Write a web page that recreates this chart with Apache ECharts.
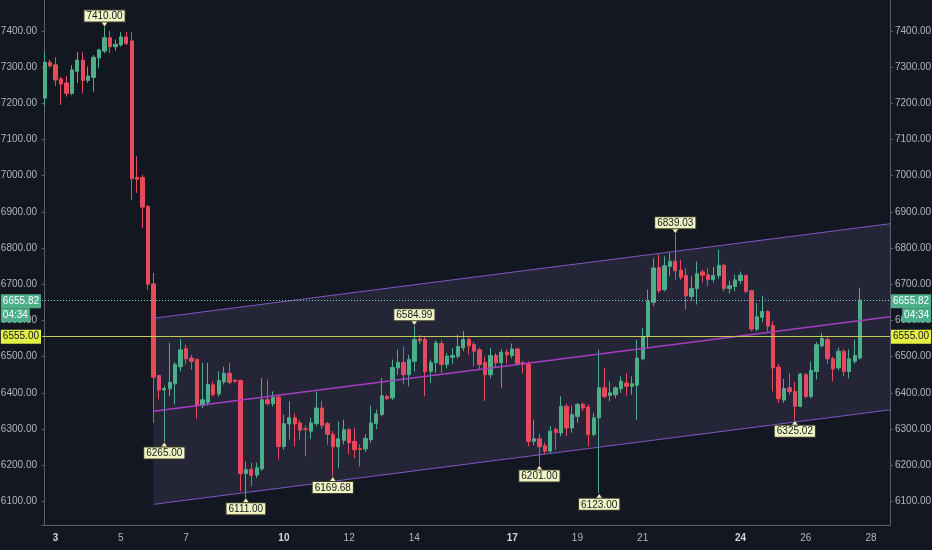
<!DOCTYPE html>
<html>
<head>
<meta charset="utf-8">
<title>BTC 4h</title>
<script src="https://cdn.jsdelivr.net/npm/echarts@6/dist/echarts.min.js"></script>
<style>
  html, body { margin: 0; padding: 0; background: #131722; }
  #chart { width: 932px; height: 550px; }
</style>
</head>
<body>
<div id="chart"></div>
<script>
// 4h candles, 2 Sep 16:00 .. 27 Sep 16:00
const opens = [7214,7313,7306,7267,7256,7227,7288,7319,7263,7271,7325,7344,7381,7356,7361,7383,7372,6995,6995,6915,
  6701,6448,6408,6411,6425,6472,6522,6496,6492,6366,6374,6422,6397,6430,6454,6435,6434,6177,6188,6173,
  6190,6381,6370,6388,6252,6314,6331,6317,6301,6294,6315,6358,6315,6285,6251,6269,6298,6266,6246,6245,
  6271,6315,6340,6390,6386,6469,6484,6450,6487,6549,6547,6459,6483,6536,6478,6498,6501,6524,6547,6533,
  6519,6484,6450,6503,6483,6512,6503,6521,6484,6479,6266,6273,6254,6239,6299,6289,6363,6303,6335,6368,
  6361,6285,6331,6414,6393,6395,6411,6427,6418,6421,6494,6556,6650,6746,6685,6749,6763,6739,6724,6666,
  6688,6734,6726,6713,6724,6752,6688,6694,6710,6724,6682,6576,6609,6625,6586,6471,6380,6414,6404,6363,
  6450,6390,6459,6530,6547,6494,6469,6515,6459,6487,6496];
const closes = [7313,7303,7264,7253,7227,7292,7319,7263,7275,7327,7347,7381,7356,7363,7383,7365,6991,6990,6913,6700,
  6443,6408,6412,6429,6478,6519,6494,6487,6365,6381,6423,6395,6434,6454,6429,6432,6177,6188,6172,6193,
  6381,6370,6388,6252,6315,6331,6314,6297,6299,6317,6358,6310,6285,6251,6273,6298,6262,6243,6244,6274,
  6317,6342,6392,6384,6470,6484,6450,6492,6547,6544,6459,6483,6538,6478,6501,6503,6528,6547,6530,6515,
  6478,6450,6503,6483,6512,6505,6521,6481,6479,6266,6273,6251,6239,6294,6290,6363,6303,6340,6368,6358,
  6285,6331,6414,6390,6400,6414,6432,6418,6425,6496,6556,6653,6745,6682,6751,6763,6737,6719,6668,6688,
  6729,6725,6713,6724,6752,6688,6696,6712,6725,6680,6576,6610,6625,6584,6469,6384,6412,6404,6363,6452,
  6390,6462,6533,6550,6494,6466,6515,6459,6494,6503,6655.82];
const lows = [7191,7298,7247,7195,7218,7222,7256,7227,7256,7232,7296,7338,7338,7345,7356,7360,6933,6952,6855,6684,
  6317,6382,6265,6390,6368,6459,6478,6464,6328,6358,6365,6390,6390,6423,6423,6428,6128,6111,6142,6165,
  6185,6365,6362,6216,6243,6271,6252,6271,6225,6273,6308,6300,6257,6169.68,6193,6257,6230,6220,6197,6237,
  6262,6300,6335,6380,6380,6450,6423,6418,6459,6535,6390,6427,6455,6455,6468,6480,6495,6515,6505,6473,
  6465,6377,6440,6470,6414,6480,6495,6475,6455,6252,6255,6201,6232,6235,6243,6280,6280,6290,6318,6350,
  6252,6280,6123,6385,6377,6386,6400,6392,6395,6326,6490,6524,6640,6676,6680,6722,6712,6712,6630,6655,
  6644,6705,6695,6705,6715,6680,6675,6680,6700,6675,6570,6570,6595,6570,6404,6372,6372,6395,6325.02,6360,
  6385,6385,6437,6525,6480,6432,6462,6446,6440,6480,6492];
const highs = [7343,7320,7327,7272,7275,7305,7342,7340,7301,7333,7351,7410,7400,7376,7396,7397,7396,7054,7002,6919,
  6731,6450,6420,6538,6485,6549,6533,6505,6495,6483,6483,6432,6459,6472,6483,6437,6437,6211,6207,6207,
  6441,6437,6404,6395,6340,6377,6343,6325,6310,6331,6404,6377,6320,6295,6321,6326,6303,6303,6258,6285,
  6365,6354,6441,6395,6492,6519,6528,6505,6584.99,6560,6556,6492,6545,6545,6510,6524,6561,6570,6552,6540,
  6525,6500,6524,6510,6520,6520,6536,6525,6487,6487,6326,6287,6262,6308,6305,6390,6370,6365,6372,6374,
  6368,6345,6519,6469,6432,6418,6446,6455,6446,6547,6579,6685,6772,6782,6777,6786,6839.03,6768,6745,6722,
  6763,6740,6745,6748,6795,6757,6710,6726,6735,6726,6685,6648,6668,6628,6598,6480,6438,6455,6430,6455,
  6455,6487,6540,6565,6555,6500,6525,6520,6520,6547,6690];

// labelled extremes: [candle index, price]
const highMarks = [[11, 7410], [68, 6584.99], [116, 6839.03]];
const lowMarks = [[22, 6265], [37, 6111], [53, 6169.68], [91, 6201], [102, 6123], [138, 6325.02]];

// regression channel: candle index span, mid-line prices at both ends, half width
const channelSpan = [20, 155.5];
const channelMid = [6349, 6610];
const channelHalf = 257;

const lastPrice = 6655.82;
const countdown = '04:34';
const alertPrice = 6555;

const xTickDays = [3, 5, 7, 10, 12, 14, 17, 19, 21, 24, 26, 28];
const boldDays = [3, 10, 17, 24];

// time axis: 4h slots from 2 Sep 16:00 to 28 Sep 12:00
const slotCount = 156;
const categories = [];
const t0 = Date.UTC(2018, 8, 2, 16);
for (let i = 0; i < slotCount; i++) {
  const d = new Date(t0 + i * 4 * 3600 * 1000);
  categories.push(d.getUTCDate() + ' ' + String(d.getUTCHours()).padStart(2, '0') + ':00');
}

const UP = '#4caf8a';
const DOWN = '#e8495b';
const TEXT = '#b2b5be';
const AXIS = '#5d606b';
const CHANNEL = '#7e57c2';
const FONT = "'Liberation Sans', Arial, sans-serif";

const candles = opens.map((o, i) => [o, closes[i], lows[i], highs[i]]);
const lowerLine = channelSpan.map((x, i) => [x, channelMid[i] - channelHalf]);
const upperLine = channelSpan.map((x, i) => [x, channelMid[i] + channelHalf]);
const midLine = channelSpan.map((x, i) => [x, channelMid[i]]);

// axis price tags
const priceLabel = {
  fontFamily: FONT, fontSize: 10, color: '#fff', backgroundColor: UP, padding: [2, 2]
};
const alertLabel = Object.assign({}, priceLabel, { backgroundColor: '#e4ef45', color: '#131722' });
const tagOffset = [16, 0, 0, 0];

const markPoints = highMarks.map(m => ({
  coord: [categories[m[0]], m[1]], value: m[1],
  symbolRotate: 180, symbolOffset: [0, -3],
  label: { position: 'top', distance: 0 }
})).concat(lowMarks.map(m => ({
  coord: [categories[m[0]], m[1]], value: m[1],
  symbolOffset: [0, 3],
  label: { position: 'bottom', distance: 0 }
})));

const yAxisBase = {
  type: 'value', min: 6035, max: 7485, minInterval: 100, maxInterval: 100,
  splitLine: { show: false },
  axisLine: { show: true, lineStyle: { color: AXIS } },
  axisTick: { show: true, length: 3, lineStyle: { color: AXIS } },
  axisLabel: {
    color: TEXT, fontFamily: FONT, fontSize: 10, showMinLabel: false, showMaxLabel: false,
    formatter: v => (Math.round(v) % 100 === 0 ? v.toFixed(2) : '')
  }
};

const chart = echarts.init(document.getElementById('chart'));

chart.setOption({
  backgroundColor: '#131722',
  animation: false,
  grid: { left: 42, right: 42, top: 0, bottom: 25, outerBoundsMode: 'none', containLabel: false },
  xAxis: [
    {
      type: 'category', data: categories, boundaryGap: true,
      axisLine: { lineStyle: { color: AXIS } },
      axisTick: { show: false },
      splitLine: { show: false },
      axisLabel: {
        color: TEXT, fontFamily: FONT, fontSize: 10, margin: 8,
        interval: (idx, val) => {
          const p = val.split(' ');
          return p[1] === '00:00' && xTickDays.includes(+p[0]);
        },
        formatter: val => {
          const d = +val.split(' ')[0];
          return boldDays.includes(d) ? '{b|' + d + '}' : String(d);
        },
        rich: { b: { fontWeight: 'bold', color: '#d1d4dc', fontFamily: FONT, fontSize: 10 } }
      }
    },
    { type: 'value', min: -0.5, max: slotCount - 0.5, show: false }
  ],
  yAxis: [
    Object.assign({}, yAxisBase, { position: 'left', axisLabel: Object.assign({}, yAxisBase.axisLabel, { margin: 5 }) }),
    Object.assign({}, yAxisBase, { position: 'right', axisLabel: Object.assign({}, yAxisBase.axisLabel, { margin: 5 }) })
  ],
  series: [
    {
      name: 'channel-fill', type: 'custom', xAxisIndex: 1, yAxisIndex: 0, silent: true,
      data: [[channelSpan[0], channelMid[0]]],
      renderItem: (params, api) => {
        const pts = [lowerLine[0], lowerLine[1], upperLine[1], upperLine[0]].map(p => api.coord(p));
        return { type: 'polygon', shape: { points: pts }, style: { fill: 'rgba(150,130,190,0.14)' } };
      }
    },
    {
      name: 'channel-lower', type: 'line', xAxisIndex: 1, yAxisIndex: 0,
      symbol: 'none', silent: true, lineStyle: { color: CHANNEL, width: 1 }, data: lowerLine
    },
    {
      name: 'channel-upper', type: 'line', xAxisIndex: 1, yAxisIndex: 0,
      symbol: 'none', silent: true, lineStyle: { color: CHANNEL, width: 1 }, data: upperLine
    },
    {
      name: 'channel-mid', type: 'line', xAxisIndex: 1, yAxisIndex: 0,
      symbol: 'none', silent: true, lineStyle: { color: '#a53ec0', width: 1.5 }, data: midLine
    },
    {
      name: 'BTCUSD', type: 'candlestick', xAxisIndex: 0, yAxisIndex: 0,
      barWidth: '70%',
      itemStyle: { color: UP, color0: DOWN, borderColor: UP, borderColor0: DOWN, borderWidth: 1 },
      data: candles,
      markLine: {
        silent: true, symbol: ['none', 'none'], animation: false,
        data: [
          {
            yAxis: lastPrice,
            lineStyle: { color: '#7fd6c2', type: [1, 2], width: 1 },
            label: {
              position: 'start', distance: 1, padding: tagOffset,
              formatter: '{a|' + lastPrice.toFixed(2) + '}\n{b|' + countdown + '}',
              rich: { a: priceLabel, b: Object.assign({}, priceLabel, { align: 'left' }) }
            }
          },
          {
            yAxis: lastPrice,
            lineStyle: { color: 'rgba(0,0,0,0)', width: 0 },
            label: {
              position: 'end', distance: 1, padding: tagOffset, opacity: 1,
              formatter: '{a|' + lastPrice.toFixed(2) + '}\n{b|' + countdown + '}',
              rich: { a: priceLabel, b: Object.assign({}, priceLabel, { align: 'right' }) }
            }
          },
          {
            yAxis: alertPrice,
            lineStyle: { color: '#c5cc55', type: 'solid', width: 1 },
            label: {
              position: 'start', distance: 1,
              formatter: '{a|' + alertPrice.toFixed(2) + '}', rich: { a: alertLabel }
            }
          },
          {
            yAxis: alertPrice,
            lineStyle: { color: 'rgba(0,0,0,0)', width: 0 },
            label: {
              position: 'end', distance: 1, opacity: 1,
              formatter: '{a|' + alertPrice.toFixed(2) + '}', rich: { a: alertLabel }
            }
          }
        ]
      },
      markPoint: {
        silent: true, animation: false,
        symbol: 'triangle', symbolSize: [7, 5],
        itemStyle: { color: '#f1f5c4', borderColor: '#3d3d28', borderWidth: 0.5 },
        label: {
          formatter: p => p.value.toFixed(2),
          color: '#131722', fontFamily: FONT, fontSize: 10,
          backgroundColor: '#f1f5c4', borderColor: '#3d3d28', borderWidth: 1,
          padding: [1, 2, 0, 2]
        },
        data: markPoints
      }
    }
  ]
});
</script>
</body>
</html>
